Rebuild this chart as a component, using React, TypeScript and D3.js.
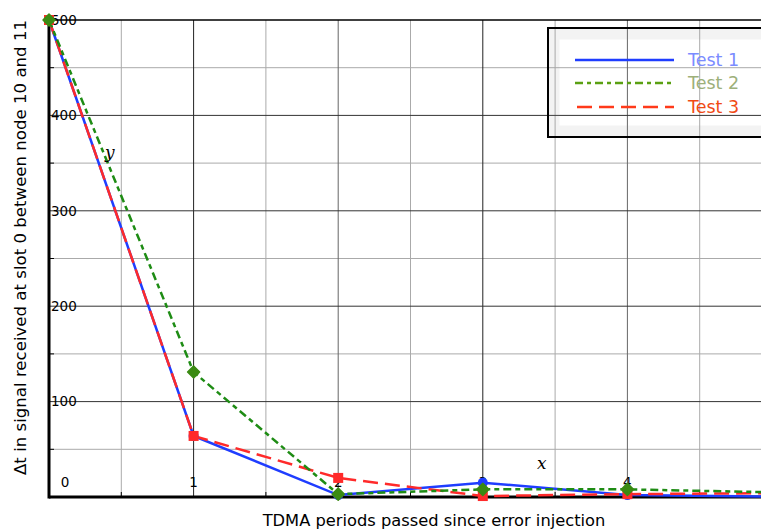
import React from "react";
import * as d3 from "d3";

const periods = [0, 1, 2, 3, 4, 5];
const test1 = [500, 64, 2, 15, 2, 0.5];
const test2 = [500, 131, 3, 8, 8, 5];
const test3 = [500, 64, 20, 1, 3, 4];
const seriesNames = ["Test 1", "Test 2", "Test 3"];
const yTicks = [0, 100, 200, 300, 400, 500];
const xTicks = [0, 1, 2, 3, 4];

const W = 761, H = 529;
const L = 49, T = 20, B = 497, R = 772;

export default function App() {
  const x = d3.scaleLinear().domain([0, 5]).range([L, R]);
  const y = d3.scaleLinear().domain([0, 500]).range([B, T]);
  const line = (vals: number[]) =>
    d3.line<number>().x((_, i) => x(periods[i])).y((v) => y(v))(vals) || "";

  const minorX = d3.range(0.5, 5, 1);
  const majorX = d3.range(1, 6, 1);
  const minorY = d3.range(50, 500, 100);
  const majorY = [100, 200, 300, 400];
  const font = "DejaVu Sans, Verdana, sans-serif";

  const blue = "#1f3dff";
  const green = "#1e8c14";
  const red = "#ff2a2a";

  const sq = 10, dm = 6;
  return (
    <svg width={W} height={H} style={{ position: "absolute", left: 0, top: 0 }}>
      <rect x={0} y={0} width={W} height={H} fill="#fff" />
      {/* grid */}
      {minorX.map((v) => (
        <line key={"mx" + v} x1={x(v)} x2={x(v)} y1={T} y2={B} stroke="#aaa" strokeWidth={1} />
      ))}
      {minorY.map((v) => (
        <line key={"my" + v} x1={L} x2={W} y1={y(v)} y2={y(v)} stroke="#aaa" strokeWidth={1} />
      ))}
      {majorX.map((v) => (
        <line key={"Mx" + v} x1={x(v)} x2={x(v)} y1={T} y2={B} stroke={v % 2 === 0 ? "#666" : "#222"} strokeWidth={1} />
      ))}
      {majorY.map((v) => (
        <line key={"My" + v} x1={L} x2={W} y1={y(v)} y2={y(v)} stroke="#333" strokeWidth={1} />
      ))}
      {/* top border */}
      <line x1={L} x2={W} y1={T} y2={T} stroke="#000" strokeWidth={1.5} />
      {/* minor ticks */}
      {minorY.map((v) => (
        <line key={"ty" + v} x1={L} x2={L + 5} y1={y(v)} y2={y(v)} stroke="#000" strokeWidth={1} />
      ))}
      {minorX.map((v) => (
        <line key={"tx" + v} x1={x(v)} x2={x(v)} y1={B} y2={B - 5} stroke="#000" strokeWidth={1} />
      ))}
      {/* axes */}
      <line x1={L} x2={L} y1={T} y2={B + 1.5} stroke="#000" strokeWidth={3} />
      <line x1={L} x2={W} y1={B} y2={B} stroke="#000" strokeWidth={3} />
      {/* tick labels */}
      {yTicks.filter((v) => v > 0).map((v) => (
        <text key={"yl" + v} x={L + 2} y={y(v)} dy="0.35em" fontSize={13.5} fontFamily={font} fill="#000">
          {v}
        </text>
      ))}
      {xTicks.map((v) => (
        <text key={"xl" + v} x={x(v) + (v === 0 ? 16 : 0)} y={B - 15} dy="0.35em" textAnchor="middle" fontSize={13.5} fontFamily={font} fill="#000">
          {v}
        </text>
      ))}
      {/* series lines */}
      <path d={line(test1)} fill="none" stroke={blue} strokeWidth={2.5} />
      <path d={line(test3)} fill="none" stroke={red} strokeWidth={2.5} strokeDasharray="15,7" />
      <path d={line(test2)} fill="none" stroke={green} strokeWidth={2.5} strokeDasharray="8,4,5,4" />
      {/* markers */}
      {test1.map((v, i) => (
        <circle key={"c" + i} cx={x(periods[i])} cy={y(v)} r={5} fill={blue} />
      ))}
      {test3.map((v, i) => (
        <rect key={"s" + i} x={x(periods[i]) - sq / 2} y={y(v) - sq / 2} width={sq} height={sq} fill={red} />
      ))}
      {test2.map((v, i) => {
        const cx = x(periods[i]), cy = y(v);
        return (
          <path key={"d" + i} d={`M${cx},${cy - dm}L${cx + dm},${cy}L${cx},${cy + dm}L${cx - dm},${cy}Z`} fill="#3a8a12" stroke="#3a8a12" strokeWidth={1.5} strokeLinejoin="round" />
        );
      })}
      {/* axis letters */}
      <text x={105} y={158} fontSize={17} fontStyle="italic" fontFamily="DejaVu Serif, serif">y</text>
      <text x={537} y={469} fontSize={17} fontStyle="italic" fontFamily="DejaVu Serif, serif">x</text>
      {/* legend */}
      <g>
        {d3.range(1, 12).map((k) => (
          <rect key={"lg" + k} x={548 + k} y={28 + k} width={W - 548 + 10} height={109 - 2 * k} fill="none" stroke="#999" strokeOpacity={0.12} strokeWidth={1} />
        ))}
        <rect x={548} y={28} width={W - 548 + 10} height={109} fill="none" stroke="#000" strokeWidth={2} />
        <line x1={575} x2={674} y1={60} y2={60} stroke={blue} strokeWidth={2.5} />
        <line x1={575} x2={674} y1={83} y2={83} stroke="#5aa012" strokeWidth={2.5} strokeDasharray="8,4,4,4" />
        <line x1={577} x2={674} y1={107} y2={107} stroke="#ff3a1a" strokeWidth={2.5} strokeDasharray="15,7" />
        <text x={688} y={60} dy="0.35em" fontSize={17.5} fontFamily={font} fill="#7b8cff">{seriesNames[0]}</text>
        <text x={688} y={83} dy="0.35em" fontSize={17.5} fontFamily={font} fill="#9db07a">{seriesNames[1]}</text>
        <text x={688} y={107} dy="0.35em" fontSize={17.5} fontFamily={font} fill="#f04a14">{seriesNames[2]}</text>
      </g>
      {/* axis titles */}
      <text x={434} y={520} dy="0.35em" textAnchor="middle" fontSize={16.3} fontFamily={font} fill="#000">
        TDMA periods passed since error injection
      </text>
      <text transform={`translate(26,475) rotate(-90)`} textAnchor="start" fontSize={16.6} fontFamily={font} fill="#000">
        Δt in signal received at slot 0 between node 10 and 11
      </text>
    </svg>
  );
}
